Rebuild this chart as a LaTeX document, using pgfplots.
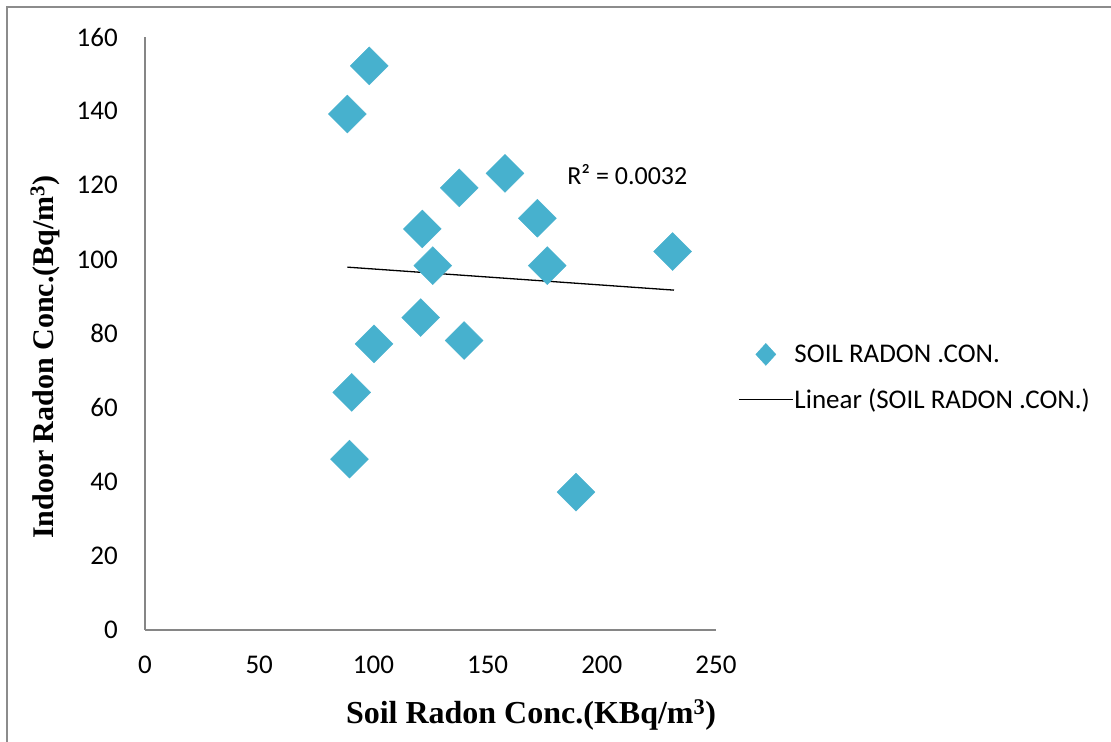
\documentclass[border=0pt]{standalone}
\usepackage{fontspec}
\usepackage{pgfplots}
\pgfplotsset{compat=1.18}
\newfontfamily\carlito{Carlito}
\newfontfamily\timesf{Liberation Serif}
\definecolor{aqua}{RGB}{71,177,206}
\definecolor{axgray}{RGB}{134,134,134}
\definecolor{framegray}{RGB}{140,140,140}
\begin{document}
\begin{tikzpicture}[x=1bp,y=1bp]
\useasboundingbox (0,0) rectangle (1111,742);
\fill[white] (0,0) rectangle (1111,742);
\draw[framegray, line width=1.5bp] (7,0) -- (7,735) -- (1111,735);
\begin{axis}[
 at={(145bp,112bp)}, anchor=south west,
 scale only axis, width=571bp, height=593bp,
 xmin=0,xmax=250,ymin=0,ymax=160,
 xtick={0,50,...,250}, ytick={0,20,...,160},
 axis x line*=bottom, axis y line*=left,
 axis line style={-, axgray, line width=1.3bp},
 major tick length=0pt,
 tick label style={font=\carlito\fontsize{27bp}{32bp}\selectfont, inner sep=0pt},
 /pgf/number format/assume math mode=true,
 xticklabel style={anchor=center, yshift=-35bp},
 yticklabel style={anchor=east, xshift=-27bp},
 xlabel={Soil Radon Conc.(KBq/m\textsuperscript{3})},
 ylabel={Indoor Radon Conc.(Bq/m\textsuperscript{3})},
 xlabel style={font=\timesf\bfseries\fontsize{32bp}{38bp}\selectfont,
   at={(axis description cs:0.676,-0.143)}, anchor=center},
 ylabel style={font=\timesf\bfseries\fontsize{30bp}{36bp}\selectfont,
   at={(axis description cs:-0.175,0.46)}, anchor=center},
 legend style={at={(axis description cs:1.0385,0.4266)}, anchor=west, draw=none, fill=none,
   font=\carlito\fontsize{27bp}{32bp}\selectfont, row sep=22bp, inner sep=0pt,
   nodes={inner sep=1bp}},
 legend cell align=left,
 clip=false,
]
\addplot[only marks, mark=square*, mark size=13.4bp,
  mark options={rotate=45, fill=aqua, draw=aqua},
  legend image code/.code={\path[draw=none,fill=none] (0bp,0bp) rectangle (54bp,0.1bp);
    \fill[aqua] (27bp,11bp)--(37bp,0bp)--(27bp,-11bp)--(17bp,0bp)--cycle;}]
coordinates {
(88.6,139.2) (98.2,152.2) (89.5,46.1) (90.5,64.1) (100.3,77.2)
(120.7,84.3) (139.7,78.1) (121.4,108.2) (126.0,98.3) (137.6,119.3)
(157.6,123.2) (171.8,111.1) (176.1,98.3) (188.7,37.2) (231.0,102.1)
};
\addlegendentry{SOIL RADON .CON.}
\addplot[black, line width=1.3bp,
  legend image code/.code={\draw[black, line width=1.3bp] (0bp,0bp)--(54bp,0bp);}]
coordinates {(88.6,97.9) (231.6,91.7)};
\addlegendentry{Linear (SOIL RADON .CON.)}
\node[anchor=west, inner sep=0pt, font=\carlito\fontsize{26bp}{31bp}\selectfont]
  at (axis cs:184.8,122.8) {R² = 0.0032};
\end{axis}
\end{tikzpicture}
\end{document}
